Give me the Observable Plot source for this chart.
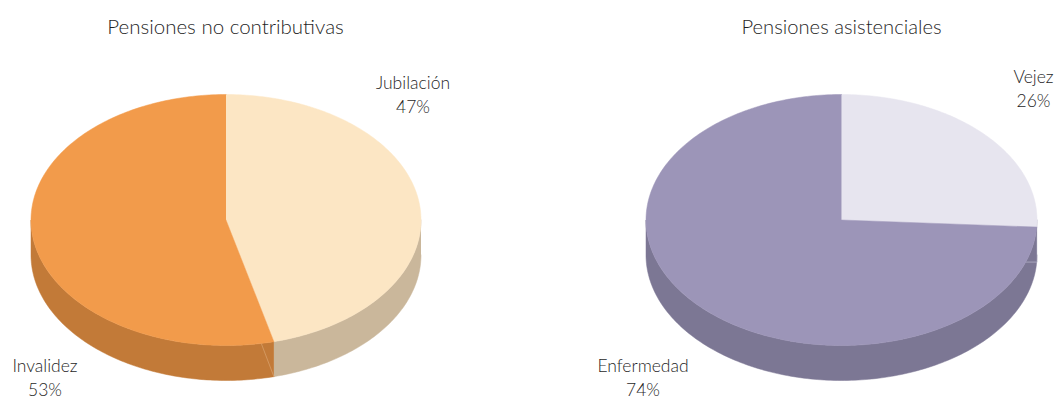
<!DOCTYPE html>
<html><head><meta charset="utf-8">
<script src="https://cdn.jsdelivr.net/npm/d3@7"></script>
<script src="https://cdn.jsdelivr.net/npm/@observablehq/plot@0.6"></script>
<style>html,body{margin:0;padding:0;background:#fff}svg{display:block}</style>
</head><body><div id="chart"></div>
<script>
// Data
const titles = ["Pensiones no contributivas", "Pensiones asistenciales"];
const leftCategories = ["Jubilación", "Invalidez"];
const leftLabels = [47, 53];
const leftDrawnShares = [46.05, 53.95];   // wedge sizes as actually drawn in the picture
const rightCategories = ["Vejez", "Enfermedad"];
const rightLabels = [26, 74];
const rightDrawnShares = [25.9, 74.1];

// Styles and layout
const leftTop = ["#fce6c4", "#f29b4b"];
const leftSide = ["#cab79b", "#c27a38"];
const rightTop = ["#e7e5ef", "#9c95b8"];
const rightSide = ["#7c7794", "#7c7794"];
const geom = {ry: 125.5, depth: 35, cy: 219.5};
const pies = [
  {cx: 225.5, rx: 195, shares: leftDrawnShares, top: leftTop, side: leftSide},
  {cx: 841, rx: 195.5, shares: rightDrawnShares, top: rightTop, side: rightSide}
];
const labelPos = [
  {x: 412.5, y: 92.5}, {x: 44.5, y: 375.5},
  {x: 1033, y: 86.5}, {x: 642.5, y: 375.5}
];
const titlePos = [{x: 225, y: 27}, {x: 841, y: 27}];
const titleSizes = [20.5, 20.2];
const font = "Lato, 'Open Sans', sans-serif";

function pt(p, deg, dz = 0) {
  const a = deg * Math.PI / 180;
  return {x: p.cx + p.rx * Math.sin(a), y: geom.cy - geom.ry * Math.cos(a) + dz};
}
function arc(p, a0, a1, dz = 0) {
  const n = Math.max(2, Math.ceil((a1 - a0) / 1));
  return d3.range(n + 1).map(i => pt(p, a0 + (a1 - a0) * i / n, dz));
}
const sideMarks = [], topMarks = [];
for (const p of pies) {
  let start = 0;
  p.shares.forEach((s, i) => {
    const end = start + s * 3.6;
    const a0 = Math.max(start, 90), a1 = Math.min(end, 270);
    if (a1 > a0) {
      const wall = [...arc(p, a0, a1), ...arc(p, a0, a1, geom.depth).reverse()];
      sideMarks.push(Plot.line(wall, {x: "x", y: "y", fill: p.side[i], stroke: p.side[i], strokeWidth: 0.5}));
    }
    const wedge = [{x: p.cx, y: geom.cy}, ...arc(p, start, end)];
    topMarks.push(Plot.line(wedge, {x: "x", y: "y", fill: p.top[i], stroke: p.top[i], strokeWidth: 0.5}));
    start = end;
  });
}
// Faint seams on the walls
const leftEnd = leftDrawnShares[0] * 3.6, rightEnd = rightDrawnShares[0] * 3.6;
const leftBottom = pt(pies[0], leftEnd, geom.depth);
const rightBottom = pt(pies[1], rightEnd, geom.depth);
const seams = [
  {pts: [pt(pies[0], leftEnd + 3.8), leftBottom], color: "#d79e68"},
  {pts: [rightBottom, {x: rightBottom.x - 11, y: rightBottom.y}], color: "#b4b0c8"}
];
const seamMarks = seams.map(s => Plot.line(s.pts, {x: "x", y: "y", stroke: s.color, strokeWidth: 0.8}));

const labels = [...leftCategories, ...rightCategories].map((c, i) => ({
  text: c + "\n" + [...leftLabels, ...rightLabels][i] + "%", ...labelPos[i]
}));
const titleMarks = titles.map((t, i) => Plot.text([{text: t, ...titlePos[i]}], {
  x: "x", y: "y", text: "text", fontSize: titleSizes[i], fontFamily: font, fontWeight: 300, fill: "#1f1f1f"
}));

const chart = Plot.plot({
  width: 1058, height: 400,
  margin: 0,
  x: {domain: [0, 1058], range: [0, 1058], axis: null},
  y: {domain: [0, 400], range: [0, 400], axis: null},
  style: {background: "#fff"},
  marks: [
    ...sideMarks, ...seamMarks, ...topMarks,
    ...titleMarks,
    Plot.text(labels, {x: "x", y: "y", text: "text", fontSize: 17.5, lineHeight: 1.4, fontFamily: font, fontWeight: 300, fill: "#1f1f1f"})
  ]
});
document.getElementById("chart").appendChild(chart);
</script></body></html>
